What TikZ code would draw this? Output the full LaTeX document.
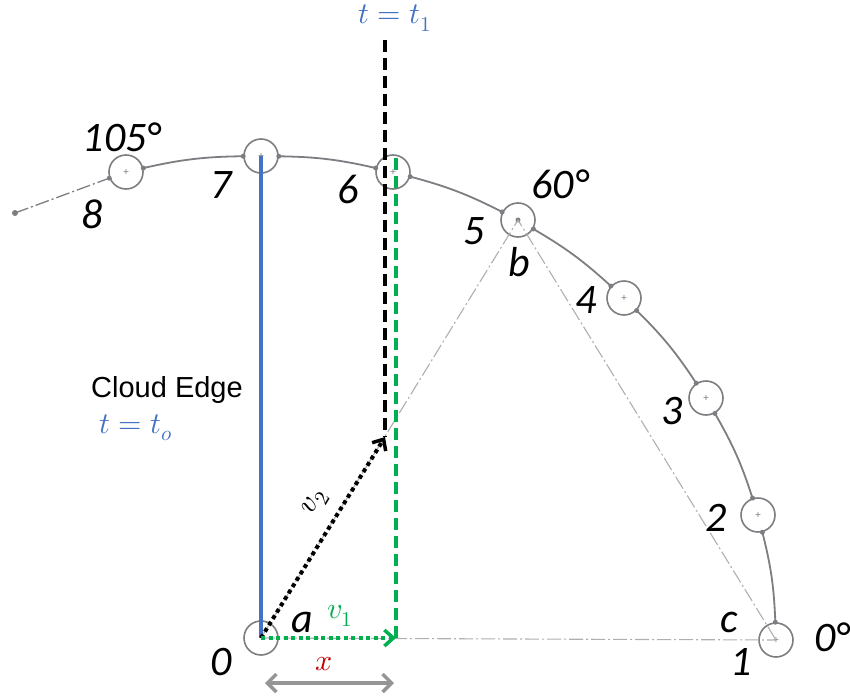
\documentclass[tikz,border=0pt]{standalone}
\usepackage{fontspec}
\usepackage{unicode-math}
\setmainfont{Carlito}
\setmathfont{Latin Modern Math}
\newfontfamily\arialf{Liberation Sans}
\usetikzlibrary{arrows.meta}
\definecolor{oblue}{RGB}{68,114,196}
\definecolor{ogreen}{RGB}{0,176,80}
\definecolor{ored}{RGB}{192,0,0}
\definecolor{arcgray}{RGB}{125,125,130}
\definecolor{trigray}{RGB}{175,175,175}
\begin{document}
\begin{tikzpicture}[x=1pt,y=-1pt,
 pt/.style={circle,draw=arcgray,line width=1.6pt,minimum size=34pt,inner sep=0pt,
   font=\fontsize{11}{11}\selectfont,text=arcgray},
 arcseg/.style={draw=arcgray,line width=1.8pt,bend left=6},
 jdot/.style={circle,fill=arcgray,inner sep=0pt,minimum size=5pt},
 lbl/.style={font=\fontsize{42}{42}\selectfont\itshape,inner sep=0pt},
 mlbl/.style={font=\fontsize{30}{30}\selectfont,inner sep=0pt},
 tri/.style={draw=trigray,line width=1.1pt,dash pattern=on 14pt off 3pt on 2pt off 3pt},
 blackdash/.style={draw=black,line width=4pt,dash pattern=on 12pt off 6pt},
 greendash/.style={draw=ogreen,line width=4pt,dash pattern=on 12pt off 6pt},
 dotarrow/.style={line width=4pt,dash pattern=on 4pt off 3.5pt,-{Straight Barb[length=9pt,width=16pt,line width=3.5pt]}},
]
\useasboundingbox (0,0) rectangle (850,698);
% points on the arc
\node[pt] (n8) at (126,172) {+};
\node[pt] (n7) at (261,156) {+};
\node[pt] (n6) at (393,172) {+};
\node[pt] (n5) at (518,220) {};
\node[pt] (n4) at (624,298) {+};
\node[pt] (n3) at (706,398) {+};
\node[pt] (n2) at (758,515) {+};
\node[pt] (n1) at (776,640) {+};
\node[pt] (n0) at (261,638) {*};
\fill[arcgray] (n5.center) circle (2.5pt);
% arc
\draw[arcseg] (n8) to node[jdot,pos=0]{} node[jdot,pos=1]{} (n7);
\draw[arcseg] (n7) to node[jdot,pos=0]{} node[jdot,pos=1]{} (n6);
\draw[arcseg] (n6) to node[jdot,pos=0]{} node[jdot,pos=1]{} (n5);
\draw[arcseg] (n5) to node[jdot,pos=0]{} node[jdot,pos=1]{} (n4);
\draw[arcseg] (n4) to node[jdot,pos=0]{} node[jdot,pos=1]{} (n3);
\draw[arcseg] (n3) to node[jdot,pos=0]{} node[jdot,pos=1]{} (n2);
\draw[arcseg] (n2) to node[jdot,pos=0]{} node[jdot,pos=1]{} (n1);
\coordinate (e8) at (15,213);
\draw[tri,draw=arcgray,line width=1.3pt] (e8) node[jdot,minimum size=6pt]{} -- (n8) node[jdot,pos=1]{};
% triangle
\draw[tri] (n0.center) -- (n5.center) -- (n1.center);
\draw[tri] (n0.center) -- (n1.center);
% coordinates
\coordinate (t1top) at (385,40);
\coordinate (v2end) at (385,437);
\coordinate (gbot) at (396,638);
\coordinate (gtop) at (396,158);
\coordinate (xl) at (265,683);
\coordinate (xr) at (394,683);
% blue cloud edge
\draw[oblue,line width=4pt] (n7.center) -- (n0.center);
% black dashed t1
\draw[blackdash] (t1top) -- (v2end);
% green dashed
\draw[greendash] (gtop) -- (gbot);
% v2 arrow
\draw[dotarrow,black] (n0.center) -- (v2end);
% v1 arrow
\draw[dotarrow,ogreen] (n0.center) -- (gbot);
% x double arrow
\draw[draw=trigray!85!black,line width=4pt,{Straight Barb[length=9pt,width=18pt,line width=3.5pt]}-{Straight Barb[length=9pt,width=18pt,line width=3.5pt]}] (xl) -- (xr);
% labels
\node[lbl] (l105) at (122,137) {105°};
\node[lbl] (l8) at (92,214) {8};
\node[lbl] (l7) at (221,185) {7};
\node[lbl] (l6) at (348,189) {6};
\node[lbl] (l60) at (560,184) {60°};
\node[lbl] (l5) at (474,231) {5};
\node[lbl] (lb) at (519,262) {b};
\node[lbl] (l4) at (586,300) {4};
\node[lbl] (l3) at (672,411) {3};
\node[lbl] (l2) at (716,518) {2};
\node[lbl] (lc) at (729,622) {c};
\node[lbl] (l1) at (741,662) {1};
\node[lbl] (l0deg) at (832,637) {0°};
\node[lbl] (l0) at (221,662) {0};
\node[lbl] (la) at (302,622) {a};
\node[mlbl,text=ogreen] (lv1) at (340,616) {$v_1$};
\node[mlbl,text=ored] (lx) at (324,664) {$x$};
\node[mlbl,rotate=58.7] (lv2) at (316,503) {$v_2$};
\node[font=\arialf\fontsize{29}{29}\selectfont,inner sep=0pt] (lce) at (167,390) {Cloud Edge};
\node[mlbl,text=oblue] (lt0) at (136,428) {$t=t_o$};
\node[mlbl,text=oblue] (lt1) at (395,18) {$t=t_1$};
\end{tikzpicture}
\end{document}
